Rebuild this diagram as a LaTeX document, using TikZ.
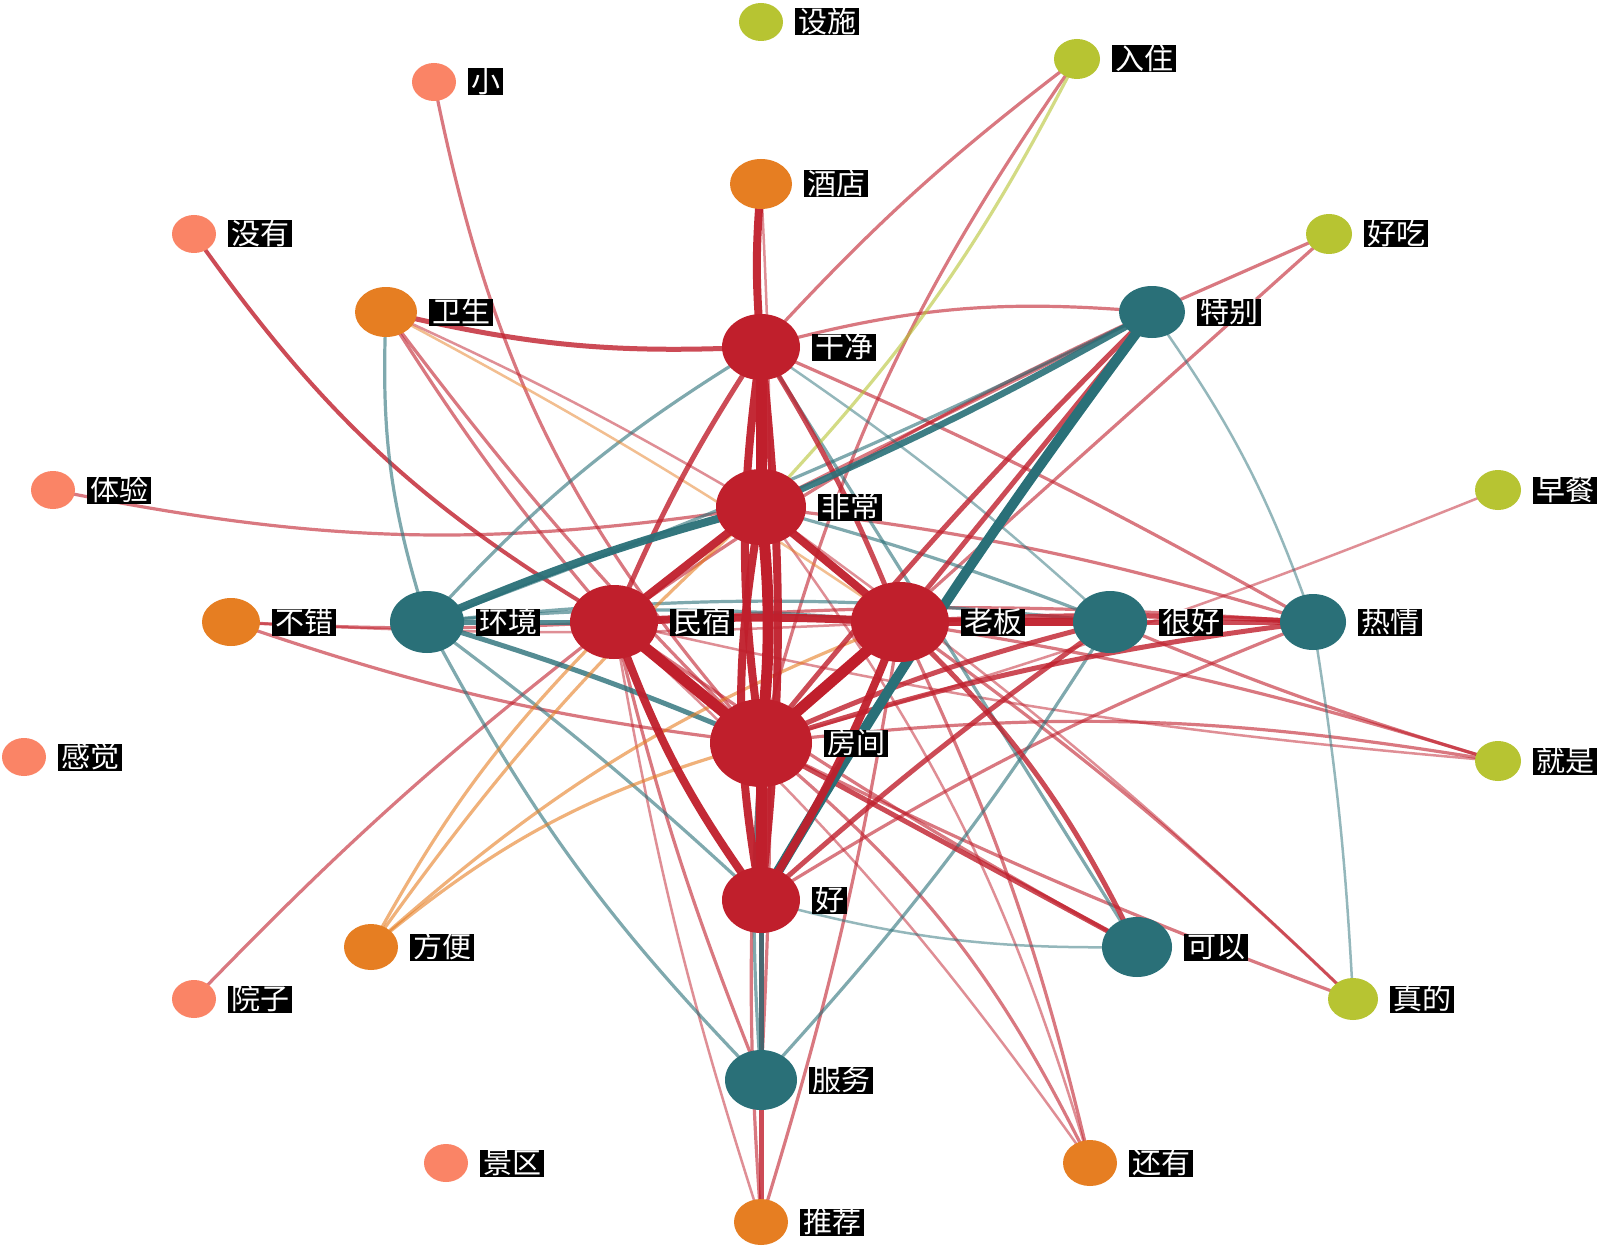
\documentclass[tikz,border=0pt]{standalone}
\usepackage{fontspec}
\newfontfamily\cjk{Noto Sans CJK SC}
\usetikzlibrary{shapes.geometric}
\definecolor{cred}{RGB}{192,31,44}
\definecolor{cteal}{RGB}{42,112,120}
\definecolor{corange}{RGB}{230,126,34}
\definecolor{csalmon}{RGB}{250,132,102}
\definecolor{cgreen}{RGB}{183,196,50}
\pgfdeclarelayer{bgw}
\pgfdeclarelayer{edges}
\pgfsetlayers{bgw,edges,main}
\tikzset{
  nd/.style={ellipse,inner sep=0pt,draw=none},
  lab/.style={fill=black,text=white,font=\cjk\fontsize{29}{29}\selectfont,inner xsep=3pt,inner ysep=0pt,text height=24pt,text depth=3pt,anchor=west},
  ered/.style={draw=cred},
  eteal/.style={draw=cteal},
  eorange/.style={draw=corange},
  egreen/.style={draw=cgreen},
  w1/.style={line width=2.5pt,draw opacity=.5},
  w2/.style={line width=3.2pt,draw opacity=.6},
  w3/.style={line width=5pt,draw opacity=.8},
  w4/.style={line width=8pt,draw opacity=.95},
  w5/.style={line width=11pt,draw opacity=1},
}
\newcommand\mknode[7]{%
  \node[nd,fill=#6,minimum width=#4pt,minimum height=#5pt] (#1) at (#2,#3) {};
  \node[lab] (#1-l) at ([xshift=12pt]#1.east) {#7};}
\begin{document}
\begin{tikzpicture}[x=1pt,y=-1pt]
\begin{pgfonlayer}{bgw}
\fill[white] (0,0) rectangle (1600,1249);
\end{pgfonlayer}
\useasboundingbox (0,0) rectangle (1600,1249);
\mknode{sheshi}{761}{22}{44}{38}{cgreen}{设施}
\mknode{xiao}{434}{82}{44}{38}{csalmon}{小}
\mknode{ruzhu}{1077}{59}{46}{40}{cgreen}{入住}
\mknode{jiudian}{761}{184}{62}{50}{corange}{酒店}
\mknode{meiyou}{194}{234}{44}{38}{csalmon}{没有}
\mknode{haochi}{1329}{234}{46}{40}{cgreen}{好吃}
\mknode{weisheng}{386}{312}{62}{50}{corange}{卫生}
\mknode{tebie}{1152}{312}{66}{52}{cteal}{特别}
\mknode{ganjing}{761}{347}{78}{66}{cred}{干净}
\mknode{tiyan}{53}{490}{44}{38}{csalmon}{体验}
\mknode{feichang}{761}{507}{90}{76}{cred}{非常}
\mknode{zaocan}{1498}{490}{46}{40}{cgreen}{早餐}
\mknode{bucuo}{231}{622}{58}{48}{corange}{不错}
\mknode{huanjing}{427}{622}{74}{62}{cteal}{环境}
\mknode{minsu}{614}{622}{88}{74}{cred}{民宿}
\mknode{laoban}{900}{622}{98}{80}{cred}{老板}
\mknode{henhao}{1110}{622}{74}{62}{cteal}{很好}
\mknode{reqing}{1313}{622}{66}{56}{cteal}{热情}
\mknode{ganjue}{24}{757}{44}{38}{csalmon}{感觉}
\mknode{fangjian}{761}{743}{102}{88}{cred}{房间}
\mknode{jiushi}{1498}{761}{46}{40}{cgreen}{就是}
\mknode{hao}{761}{900}{78}{66}{cred}{好}
\mknode{fangbian}{371}{947}{54}{46}{corange}{方便}
\mknode{keyi}{1137}{947}{70}{60}{cteal}{可以}
\mknode{yuanzi}{194}{999}{44}{38}{csalmon}{院子}
\mknode{zhende}{1353}{999}{50}{42}{cgreen}{真的}
\mknode{fuwu}{761}{1080}{72}{60}{cteal}{服务}
\mknode{jingqu}{446}{1163}{44}{38}{csalmon}{景区}
\mknode{haiyou}{1090}{1163}{54}{46}{corange}{还有}
\mknode{tuijian}{761}{1222}{54}{46}{corange}{推荐}
\begin{pgfonlayer}{edges}
% thin red
\draw[ered,line width=4pt,draw opacity=.8] (meiyou.center) to[bend right=12] (minsu.center);
\draw[ered,w2] (xiao.center) to[bend right=15] (fangjian.center);
\draw[ered,w2] (tiyan.center) to[bend right=10] (feichang.center);
\draw[ered,w2] (bucuo.center) to[bend right=6] (fangjian.center);
\draw[ered,w2] (bucuo.center) to[bend right=3] (minsu.center);
\draw[ered,w1] (bucuo.center) to[bend right=3] (laoban.center);
\draw[ered,w2] (yuanzi.center) to[bend left=4] (minsu.center);
\draw[ered,w2] (weisheng.center) to[bend right=4] (minsu.center);
\draw[ered,w2] (weisheng.center) to[bend right=4] (fangjian.center);
\draw[ered,w1] (weisheng.center) to[bend left=3] (feichang.center);
\draw[ered,w2] (ruzhu.center) to[bend right=5] (ganjing.center);
\draw[ered,w2] (ruzhu.center) to[bend right=10] (fangjian.center);
\draw[ered,w2] (haochi.center) to (fangjian.center);
\draw[ered,w1] (zaocan.center) to[bend left=3] (fangjian.center);
\draw[ered,w2] (fangjian.center) to[bend left=8] (jiushi.center);
\draw[ered,w2] (henhao.center) to[bend right=3] (jiushi.center);
\draw[ered,w2] (laoban.center) to[bend left=4] (jiushi.center);
\draw[ered,w1] (minsu.center) to[bend right=4] (jiushi.center);
\draw[ered,w2] (fangjian.center) to[bend right=3] (zhende.center);
\draw[ered,w2] (laoban.center) to[bend left=4] (zhende.center);
\draw[ered,w1] (feichang.center) to[bend left=4] (zhende.center);
\draw[ered,w2] (minsu.center) to[bend right=3] (keyi.center);
\draw[ered,w2] (haiyou.center) to[bend right=12] (fangjian.center);
\draw[ered,w2] (haiyou.center) to[bend right=6] (laoban.center);
\draw[ered,w1] (haiyou.center) to[bend right=10] (feichang.center);
\draw[ered,w1] (haiyou.center) to[bend right=6] (minsu.center);
\draw[ered,w3] (tuijian.center) to (hao.center);
\draw[ered,w2] (tuijian.center) to[bend left=4] (fangjian.center);
\draw[ered,w2] (tuijian.center) to[bend right=4] (laoban.center);
\draw[ered,w1] (tuijian.center) to[bend left=4] (minsu.center);
\draw[ered,w2] (fuwu.center) to[bend left=4] (minsu.center);
\draw[ered,w2] (fuwu.center) to[bend right=3] (feichang.center);
\draw[ered,w2] (ganjing.center) to[bend left=10] (tebie.center);
\draw[ered,w2] (tebie.center) to (haochi.center);
\draw[ered,w1] (jiudian.center) to[bend left=3] (fangjian.center);
\draw[ered,w2] (feichang.center) to[bend left=5] (reqing.center);
\draw[ered,w2] (minsu.center) to[bend left=4] (reqing.center);
\draw[ered,w2] (ganjing.center) to[bend left=3] (reqing.center);
\draw[ered,w2] (tebie.center) to[bend right=5] (minsu.center);
\draw[ered,w2] (tebie.center) to (feichang.center);
\draw[ered,w2] (hao.center) to[bend left=5] (reqing.center);
% teal
\draw[eteal,w2] (weisheng.center) to[bend right=10] (huanjing.center);
\draw[eteal,w2] (huanjing.center) to[bend left=8] (ganjing.center);
\draw[eteal,w2] (huanjing.center) to[bend left=5] (laoban.center);
\draw[eteal,w2] (huanjing.center) to[bend left=6] (henhao.center);
\draw[eteal,w3] (huanjing.center) to[bend left=3] (fangjian.center);
\draw[eteal,w2] (huanjing.center) to[bend left=3] (hao.center);
\draw[eteal,w2] (huanjing.center) to[bend right=8] (fuwu.center);
\draw[eteal,w2] (tebie.center) to[bend left=3] (huanjing.center);
\draw[eteal,w1] (tebie.center) to[bend left=8] (reqing.center);
\draw[eteal,w1] (reqing.center) to[bend left=3] (zhende.center);
\draw[eteal,w2] (ganjing.center) to (keyi.center);
\draw[eteal,w1] (ganjing.center) to[bend left=4] (henhao.center);
\draw[eteal,w2] (feichang.center) to[bend left=3] (henhao.center);
\draw[eteal,w1] (hao.center) to[bend right=8] (keyi.center);
\draw[eteal,w2] (henhao.center) to[bend left=5] (fuwu.center);
\draw[eteal,w2] (fangjian.center) to[bend right=4] (fuwu.center);
% orange / green
\draw[eorange,w1] (weisheng.center) to[bend left=3] (laoban.center);
\draw[eorange,w2] (fangbian.center) to[bend left=8] (minsu.center);
\draw[eorange,w2] (fangbian.center) to[bend left=6] (feichang.center);
\draw[eorange,w2] (fangbian.center) to[bend left=12] (fangjian.center);
\draw[eorange,w2] (fangbian.center) to[bend left=10] (laoban.center);
\draw[egreen,w2] (ruzhu.center) to[bend left=8] (feichang.center);
% medium red
\draw[ered,w3] (weisheng.center) to[bend right=8] (ganjing.center);
\draw[ered,w3] (ganjing.center) to[bend right=5] (minsu.center);
\draw[ered,w3] (ganjing.center) to[bend left=5] (laoban.center);
\draw[ered,w3] (fangjian.center) to[bend left=5] (henhao.center);
\draw[ered,w3] (fangjian.center) to (keyi.center);
\draw[ered,w3] (laoban.center) to[bend left=10] (keyi.center);
\draw[ered,w3] (laoban.center) to[bend left=3] (reqing.center);
\draw[ered,w3] (tebie.center) to (laoban.center);
\draw[ered,w3] (tebie.center) to[bend right=3] (fangjian.center);
\draw[ered,w3] (henhao.center) to (reqing.center);
\draw[ered,w3] (fangjian.center) to[bend left=5] (reqing.center);
\draw[ered,w3] (hao.center) to[bend left=3] (henhao.center);
% medium/thick teal
\draw[eteal,w3] (huanjing.center) to (minsu.center);
\draw[eteal,line width=6.5pt,draw opacity=.9] (tebie.center) to[bend left=3] (feichang.center);
\draw[eteal,w3] (hao.center) to (fuwu.center);
\draw[eteal,w4] (huanjing.center) to[bend left=4] (feichang.center);
\draw[eteal,line width=10pt] (tebie.center) to[bend right=3] (hao.center);
% thick red
\draw[ered,w4] (jiudian.center) to[bend right=5] (ganjing.center);
\draw[ered,w4] (minsu.center) to (feichang.center);
\draw[ered,w4] (ganjing.center) to[bend right=8] (fangjian.center);
\draw[ered,w4] (ganjing.center) to[bend left=6] (hao.center);
\draw[ered,w4] (feichang.center) to[bend right=10] (hao.center);
\draw[ered,w4] (minsu.center) to[bend right=8] (hao.center);
\draw[ered,w4] (minsu.center) to[bend left=3] (laoban.center);
\draw[ered,w4] (laoban.center) to (henhao.center);
\draw[ered,w4] (feichang.center) to (laoban.center);
\draw[ered,w4] (laoban.center) to[bend left=5] (hao.center);
\draw[ered,w5] (minsu.center) to (fangjian.center);
\draw[ered,w5] (feichang.center) to[bend left=6] (fangjian.center);
\draw[ered,w5] (ganjing.center) to (feichang.center);
\draw[ered,w5] (fangjian.center) to (hao.center);
\draw[ered,w5] (laoban.center) to (fangjian.center);
\end{pgfonlayer}
\end{tikzpicture}
\end{document}
